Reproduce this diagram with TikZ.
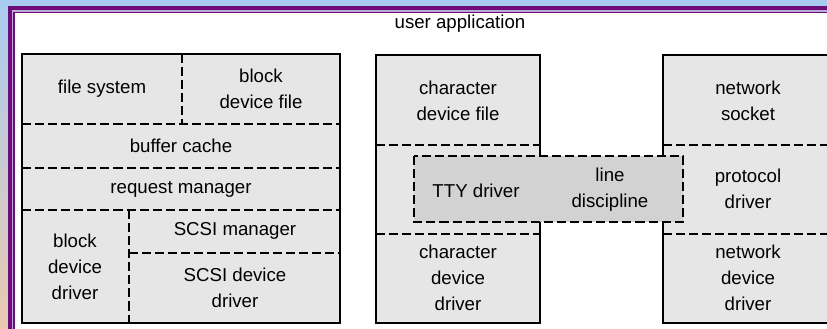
\documentclass[tikz,border=0pt]{standalone}
\usepackage{fontspec}
\setmainfont{Liberation Sans}
\usetikzlibrary{positioning}
\definecolor{skyblue}{HTML}{A9CBF1}
\definecolor{peach}{HTML}{E9C9B1}
\definecolor{framepurple}{HTML}{6E0C7A}
\definecolor{framelilac}{HTML}{BBAAD8}
\definecolor{layergrey}{HTML}{E6E6E6}
\definecolor{ttygrey}{HTML}{D2D2D2}
\tikzset{
  layer/.style      = {fill=layergrey},
  outline/.style    = {line width=1.4pt},
  split/.style      = {line width=1.3pt, dash pattern=on 6.8pt off 3pt},
  every node/.style = {font=\fontsize{14}{19.5}\selectfont, align=center, inner sep=0pt},
}

\begin{document}
\begin{tikzpicture}[x=0.75pt, y=-0.75pt]
  \useasboundingbox (0,0) rectangle (827,328);
  \clip (0,0) rectangle (827,328);
  % backdrop and frame
  \shade[top color=skyblue, bottom color=peach] (0,0) rectangle (827,328);
  \fill[framepurple] (8.3,6.3) rectangle (900,400);
  \fill[framelilac] (12.3,10.3) rectangle (900,400);
  \fill[framepurple] (13.3,11.6) rectangle (900,400);
  \fill[white] (14.8,13) rectangle (900,400);

  \node (user) at (460,24) {user application};

  % block stack
  \fill[layer] (22,54) rectangle (340,323);
  \draw[split] (182,54) -- (182,124);
  \foreach \y in {124,168,210} {
    \draw[split] (22,\y) -- (340,\y);
  }
  \draw[split] (129,210) -- (129,323);
  \draw[split] (129,253) -- (340,253);
  \draw[outline] (22,54) rectangle (340,323);

  % character and network stacks
  \fill[layer] (376,55) rectangle (540,323);
  \fill[layer] (663,55) rectangle (840,323);
  \foreach \y in {145,234} {
    \draw[split] (376,\y) -- (540,\y);
    \draw[split] (663,\y) -- (840,\y);
  }
  \filldraw[fill=ttygrey, split] (414,156) rectangle (683,222);
  \draw[outline] (540,156) -- (540,55) -- (376,55) -- (376,323) -- (540,323) -- (540,222);
  \draw[outline] (663,156) -- (663,55) -- (840,55);
  \draw[outline] (840,323) -- (663,323) -- (663,222);

  \node (fs)     at (102,89)  {file system};
  \node (bdf)    at (261,89)  {block\\device file};
  \node (buf)    at (181,146) {buffer cache};
  \node (req)    at (181,189) {request manager};
  \node (bdd)    at (75,267)  {block\\device\\driver};
  \node (scsim)  at (235,231) {SCSI manager};
  \node (scsid)  at (235,288) {SCSI device\\driver};

  \node (cdf)    at (458,101) {character\\device file};
  \node (tty)    at (476,191) {TTY driver};
  \node (ldisc)  at (610,190) {line\\discipline};
  \node (cdd)    at (458,278) {character\\device\\driver};

  \node (sock)   at (748,101) {network\\socket};
  \node (proto)  at (748,189) {protocol\\driver};
  \node (ndd)    at (748,278) {network\\device\\driver};
\end{tikzpicture}
\end{document}
